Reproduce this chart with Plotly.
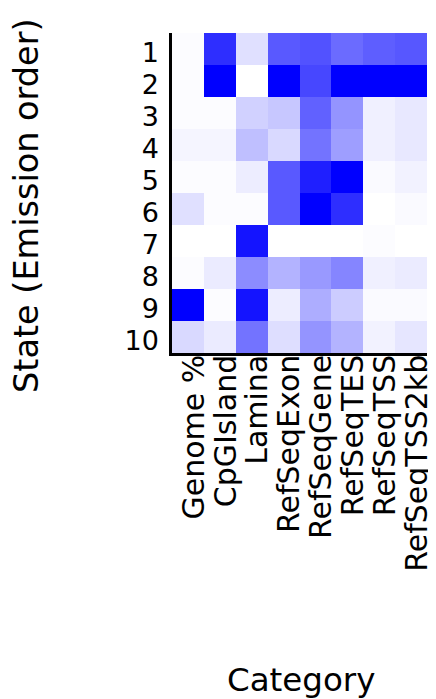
import plotly.graph_objects as go

categories = ["Genome %", "CpGIsland", "Lamina", "RefSeqExon", "RefSeqGene",
              "RefSeqTES", "RefSeqTSS", "RefSeqTSS2kb"]
states = ["1", "2", "3", "4", "5", "6", "7", "8", "9", "10"]

# relative enrichment (0 = white, 1 = full blue), one row per state
state_1 = [0.01, 0.82, 0.12, 0.65, 0.68, 0.58, 0.63, 0.66]
state_2 = [0.01, 1.00, 0.00, 1.00, 0.72, 1.00, 1.00, 1.00]
state_3 = [0.01, 0.01, 0.18, 0.22, 0.62, 0.42, 0.06, 0.09]
state_4 = [0.04, 0.04, 0.25, 0.15, 0.55, 0.38, 0.06, 0.09]
state_5 = [0.01, 0.01, 0.07, 0.65, 0.88, 1.00, 0.02, 0.05]
state_6 = [0.12, 0.01, 0.01, 0.65, 1.00, 0.82, 0.00, 0.02]
state_7 = [0.00, 0.00, 0.92, 0.00, 0.00, 0.00, 0.01, 0.00]
state_8 = [0.01, 0.08, 0.45, 0.30, 0.40, 0.48, 0.06, 0.08]
state_9 = [1.00, 0.01, 0.92, 0.07, 0.32, 0.20, 0.02, 0.02]
state_10 = [0.15, 0.08, 0.55, 0.13, 0.42, 0.30, 0.05, 0.10]

z = [state_1, state_2, state_3, state_4, state_5,
     state_6, state_7, state_8, state_9, state_10]

# page body has an 8px default margin: size and place the figure to compensate
OFF = 8
W, H = 436 - OFF, 699 - OFF
L, T = 172 - OFF, 33 - OFF
pw, ph = 255, 320
R, B = W - L - pw, H - T - ph

def px(x):
    return (x - OFF - L) / pw

def py(y):
    return (T + ph - (y - OFF)) / ph

FONT = "DejaVu Sans"

fig = go.Figure(go.Heatmap(
    z=z, x=categories, y=states,
    colorscale=[[0, "#ffffff"], [1, "#0000ff"]],
    zmin=0, zmax=1, showscale=False, xgap=0, ygap=0,
))

fig.update_layout(
    width=W, height=H,
    margin=dict(l=L, r=R, t=T, b=B, pad=0, autoexpand=False),
    paper_bgcolor="white", plot_bgcolor="white",
    font=dict(family=FONT, color="black"),
    xaxis=dict(
        tickmode="array", tickvals=categories, ticktext=categories,
        tickangle=-90, tickfont=dict(size=30, family=FONT),
        showline=True, linecolor="black", linewidth=2.5,
        ticks="", showgrid=False, zeroline=False, mirror=False,
        ticklabelstandoff=-13, ticklabelshift=6, automargin=False,
    ),
    yaxis=dict(
        tickmode="array", tickvals=states, ticktext=states,
        autorange="reversed", tickfont=dict(size=27, family=FONT),
        showline=True, linecolor="black", linewidth=2.5,
        ticks="", showgrid=False, zeroline=False,
        ticklabelstandoff=5, ticklabelshift=-4, automargin=False,
    ),
    annotations=[
        dict(text="State (Emission order)", xref="paper", yref="paper",
             x=px(26), y=py(206), textangle=-90, showarrow=False,
             font=dict(size=33.5, family=FONT), xanchor="center", yanchor="middle"),
        dict(text="Category", xref="paper", yref="paper",
             x=px(301), y=py(680), showarrow=False,
             font=dict(size=32.5, family=FONT), xanchor="center", yanchor="middle"),
    ],
)

fig.write_html("out.html")
